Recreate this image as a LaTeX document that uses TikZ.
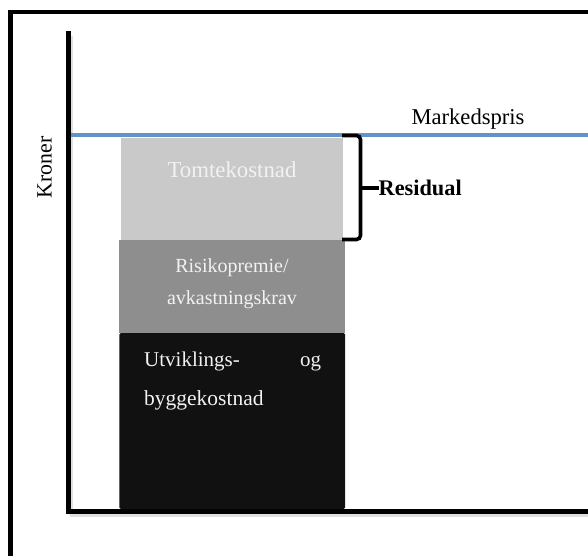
\documentclass[tikz,border=0pt]{standalone}
\usepackage{fontspec}
\setmainfont{Liberation Serif}
\definecolor{priceblue}{RGB}{98,146,200}
\definecolor{tomtgray}{RGB}{201,201,201}
\definecolor{riskgray}{RGB}{142,142,142}
\definecolor{buildblack}{RGB}{17,17,17}
\definecolor{lighttext}{RGB}{242,242,242}
\tikzset{
  axisline/.style={line width=4.2pt, black},
  shadowline/.style={line width=4pt, black!12},
  framebar/.style={line width=4.5pt, black},
  costbox/.style={draw=none, inner sep=0pt},
  boxtext/.style={inner sep=0pt, anchor=base, text=lighttext},
  bracepath/.style={line width=3.6pt, black, rounded corners=4pt},
}
\begin{document}
\begin{tikzpicture}[x=1pt,y=-1pt]
\useasboundingbox (0,0) rectangle (588,556);
\fill[white] (0,0) rectangle (588,556);
% outer frame (left and top)
\coordinate (fTL) at (10.6,12);
\coordinate (fBL) at (10.6,556);
\coordinate (fTR) at (588,12);
\draw[framebar] (fBL) -- (fTL) -- (fTR);
% boxes
\fill[tomtgray] (121,138) rectangle (343,240);
\fill[riskgray] (119.3,239.5) rectangle (345,333);
\fill[buildblack, rounded corners=1.5pt] (119.3,509) -- (119.3,333) -- (345,333) -- (345,509) -- cycle;
% axes
\coordinate (yTop) at (68.5,31.5);
\coordinate (origin) at (68.5,511.5);
\coordinate (xEnd) at (588,511.5);
\draw[shadowline] (71,36) -- (71,515);
\draw[shadowline] (70,515) -- (588,515);
\draw[axisline] (yTop) -- ([yshift=-2pt]origin);
\draw[axisline] ([xshift=-2pt]origin) -- (xEnd);
% market price line
\coordinate (pStart) at (70.5,135.5);
\coordinate (pEnd) at (588,135.5);
\draw[line width=4pt, priceblue] (pStart) -- (pEnd);
\node[inner sep=0pt, anchor=base, font=\fontsize{22.6}{27}\selectfont] (mp) at (468,125) {Markedspris};
% y label
\node[inner sep=0pt, anchor=base, rotate=90, font=\fontsize{21.8}{26}\selectfont] (kr) at (51.5,167.5) {Kroner};
% box texts
\node[boxtext, font=\fontsize{22.8}{27}\selectfont] (tomt) at (232,177) {Tomtekostnad};
\node[boxtext, font=\fontsize{20}{24}\selectfont] (risk1) at (232,272) {Risikopremie/};
\node[boxtext, font=\fontsize{20}{24}\selectfont] (risk2) at (232,304) {avkastningskrav};
\node[inner sep=0pt, anchor=base west, text=lighttext, text width=177pt, font=\fontsize{21}{25}\selectfont] (utv1) at (144,366.5) {Utviklings-\hfill og};
\node[inner sep=0pt, anchor=base west, text=lighttext, font=\fontsize{21.5}{25}\selectfont] (utv2) at (144,405) {byggekostnad};
% brace
\coordinate (bTop) at (342,135.5);
\coordinate (bBot) at (342,239.5);
\coordinate (bMid) at (360.5,188);
\coordinate (bTip) at (379,188);
\draw[bracepath] (bTop) -- (360.5,135.5) -- (360.5,239.5) -- (bBot);
\draw[line width=3.6pt] (bMid) -- (bTip);
\node[inner sep=0pt, anchor=base west, font=\bfseries\fontsize{22.3}{27}\selectfont] (res) at (378.5,195) {Residual};
\end{tikzpicture}
\end{document}
